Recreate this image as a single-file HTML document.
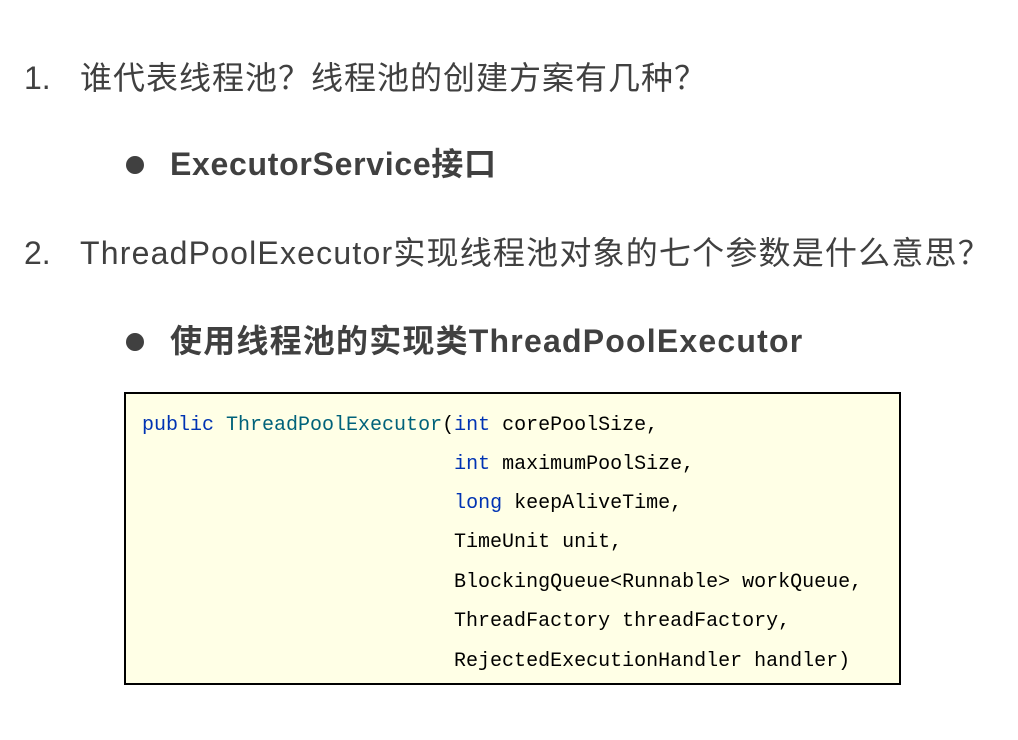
<!DOCTYPE html>
<html><head><meta charset="utf-8"><style>
body{margin:0;width:1018px;height:740px;background:#fff;position:relative;overflow:hidden;font-family:"Liberation Sans","Noto Sans CJK SC",sans-serif;color:#404040}
.t{position:absolute;font-size:32px;white-space:nowrap;line-height:1}
.b{font-weight:bold}
.dot{position:absolute;width:18px;height:18px;border-radius:50%;background:#404040}
.code{position:absolute;left:124px;top:392px;width:773px;height:289px;border:2px solid #000;background:#ffffe6}
.l{position:absolute;left:16px;font-family:"Liberation Mono",monospace;font-size:20px;color:#000;white-space:pre;line-height:1}
.k{color:#0033b3}.c{color:#00627a}
</style></head><body>
<div class="t" style="left:24px;top:62px">1.</div>
<div class="t" style="left:80px;top:62px;letter-spacing:1px">谁代表线程池？线程池的创建方案有几种？</div>
<div class="dot" style="left:126px;top:156px"></div>
<div class="t b" style="left:170px;top:148px;letter-spacing:0.7px">ExecutorService接口</div>
<div class="t" style="left:24px;top:237px">2.</div>
<div class="t" style="left:80px;top:237px;letter-spacing:1.2px">ThreadPoolExecutor实现线程池对象的七个参数是什么意思？</div>
<div class="dot" style="left:126px;top:333px"></div>
<div class="t b" style="left:170px;top:325px;letter-spacing:1.2px">使用线程池的实现类ThreadPoolExecutor</div>
<div class="code">
<div class="l" style="top:22px"><span class="k">public</span> <span class="c">ThreadPoolExecutor</span>(<span class="k">int</span> corePoolSize,</div>
<div class="l" style="top:61px">                          <span class="k">int</span> maximumPoolSize,</div>
<div class="l" style="top:100px">                          <span class="k">long</span> keepAliveTime,</div>
<div class="l" style="top:139px">                          TimeUnit unit,</div>
<div class="l" style="top:179px">                          BlockingQueue&lt;Runnable&gt; workQueue,</div>
<div class="l" style="top:218px">                          ThreadFactory threadFactory,</div>
<div class="l" style="top:258px">                          RejectedExecutionHandler handler)</div>
</div>
</body></html>
